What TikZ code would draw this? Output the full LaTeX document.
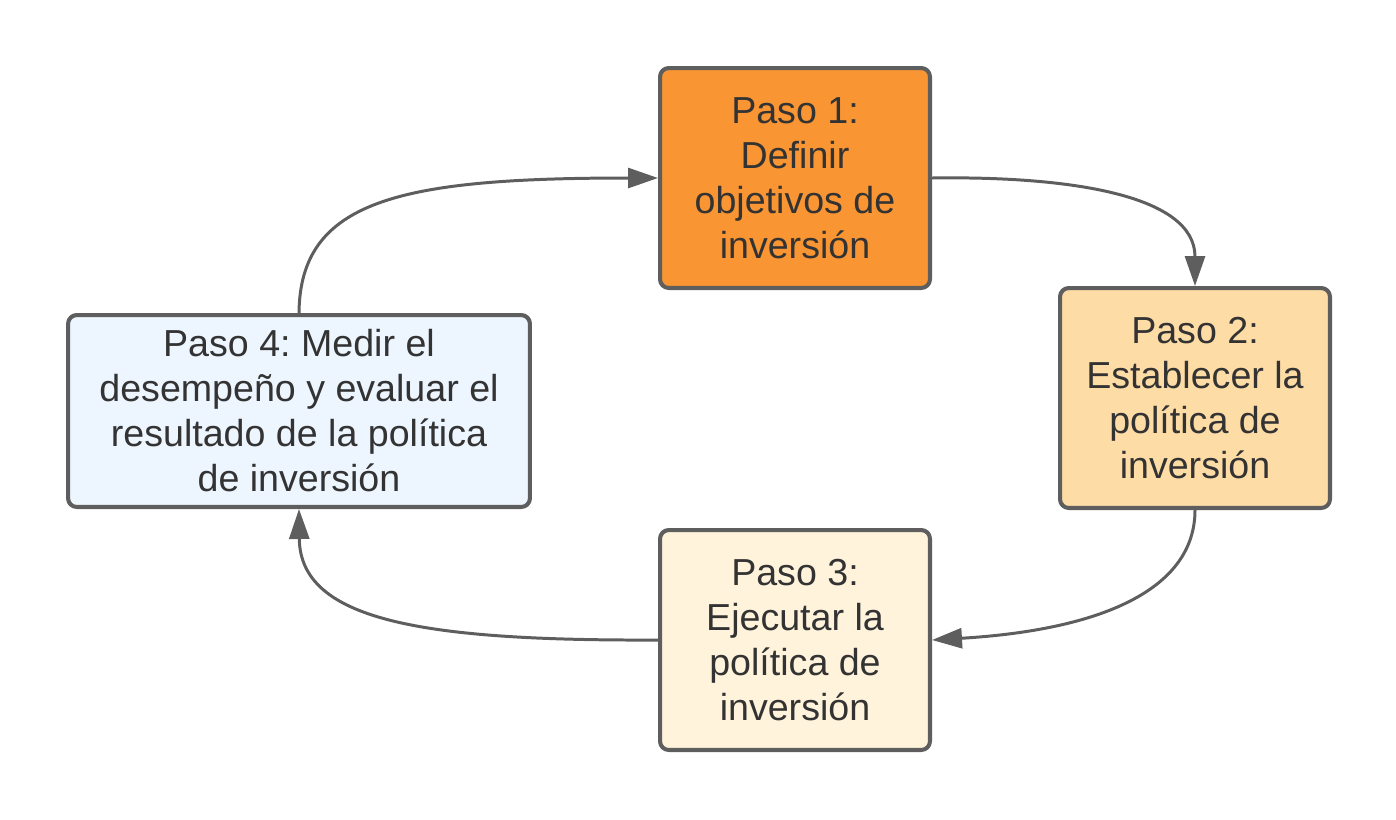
\documentclass[tikz,border=0pt]{standalone}
\usepackage{fontspec}
\setmainfont{Liberation Sans}
\usetikzlibrary{arrows.meta}
\frenchspacing
\definecolor{edge}{HTML}{5E5E5E}
\definecolor{txt}{HTML}{333333}
\definecolor{c1}{HTML}{F99532}
\definecolor{c2}{HTML}{FEDCA6}
\definecolor{c3}{HTML}{FFF3DB}
\definecolor{c4}{HTML}{EDF5FF}
\tikzset{
  stepbox/.style={draw=edge, line width=2.3pt, rounded corners=5pt, align=center,
    text=txt, font=\fontsize{21.4}{25.6}\selectfont, inner sep=0pt},
  conn/.style={draw=edge, line width=1.7pt, -{Triangle[length=0.6cm,width=0.4cm]}}
}
\begin{document}
\begin{tikzpicture}[x=0.02cm,y=-0.02cm]
\useasboundingbox (0,0) rectangle (1396,819);
\node[stepbox, fill=c1, minimum width=5.4cm, minimum height=4.4cm] (b1) at (795,178)
  {Paso 1:\\Definir\\objetivos de\\inversión};
\node[stepbox, fill=c2, minimum width=5.4cm, minimum height=4.4cm] (b2) at (1195,398)
  {Paso 2:\\Establecer la\\política de\\inversión};
\node[stepbox, fill=c3, minimum width=5.4cm, minimum height=4.4cm] (b3) at (795,640)
  {Paso 3:\\Ejecutar la\\política de\\inversión};
\node[stepbox, fill=c4, minimum width=9.24cm, minimum height=3.84cm] (b4) at (299,411)
  {Paso 4: Medir el\\desempeño y evaluar el\\resultado de la política\\de inversión};
\draw[conn] (b4.north) .. controls (300,200) and (400,178) .. (b1.west);
\draw[conn] (b1.east) .. controls (1070,176) and (1195,195) .. (b2.north);
\draw[conn] (b2.south) .. controls (1195,590) and (1100,630) .. (b3.east);
\draw[conn] (b3.west) .. controls (420,641) and (300,620) .. (b4.south);
\end{tikzpicture}
\end{document}
